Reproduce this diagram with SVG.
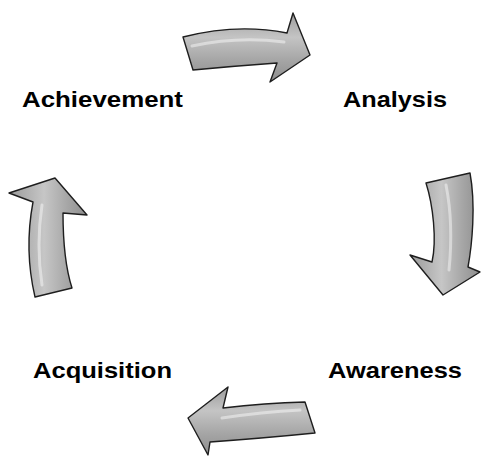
<svg xmlns="http://www.w3.org/2000/svg" width="482" height="457" viewBox="0 0 482 457">
<style>
.lbl{font-family:"Liberation Sans",Arial,sans-serif;font-weight:bold;font-size:22px;fill:#000}
.arr{stroke:#1e1e1e;stroke-width:1.4;stroke-linejoin:round}
.hl{fill:none;stroke:#ffffff;stroke-opacity:0.45;stroke-width:3;stroke-linecap:round}
</style>
<defs>
<linearGradient id="gv" x1="0" y1="0" x2="0" y2="1">
<stop offset="0" stop-color="#9c9c9c"/>
<stop offset="0.35" stop-color="#c4c4c4"/>
<stop offset="0.7" stop-color="#a4a4a4"/>
<stop offset="1" stop-color="#8e8e8e"/>
</linearGradient>
<linearGradient id="gh" x1="0" y1="0" x2="1" y2="0">
<stop offset="0" stop-color="#9a9a9a"/>
<stop offset="0.45" stop-color="#c6c6c6"/>
<stop offset="0.75" stop-color="#a6a6a6"/>
<stop offset="1" stop-color="#8e8e8e"/>
</linearGradient>
</defs>
<g id="connectors">
<path class="arr" fill="url(#gv)" d="M183,37 Q237,23 287,33 L293,13 L310,55 L270,82 L277,63 Q235,66 193,70 Z"/>
<path class="hl" d="M192,46 Q238,36 284,42"/>
<path class="arr" fill="url(#gh)" d="M426,183 C433,205 437,240 432,262 L410,255 L443,295 L480,272 L468,267 C472,245 476,205 470,173 Z"/>
<path class="hl" d="M446,185 C451,210 452,240 449,270"/>
<path class="arr" fill="url(#gv)" d="M305,402 Q265,403 223,408 L228,387 L188,418 L208,455 L210,442 Q265,438 315,433 Z"/>
<path class="hl" d="M300,410 Q262,412 222,418"/>
<path class="arr" fill="url(#gh)" d="M35,297 Q24,250 33,202 L9,193 L55,178 L87,215 L63,213 Q63,260 72,288 Z"/>
<path class="hl" d="M42,285 Q36,245 42,205"/>
</g>
<g id="node-achievement"><text class="lbl" x="22" y="107" textLength="161" lengthAdjust="spacingAndGlyphs">Achievement</text></g>
<g id="node-analysis"><text class="lbl" x="343" y="107" textLength="104" lengthAdjust="spacingAndGlyphs">Analysis</text></g>
<g id="node-awareness"><text class="lbl" x="328" y="378" textLength="134" lengthAdjust="spacingAndGlyphs">Awareness</text></g>
<g id="node-acquisition"><text class="lbl" x="33" y="378" textLength="139" lengthAdjust="spacingAndGlyphs">Acquisition</text></g>
</svg>
